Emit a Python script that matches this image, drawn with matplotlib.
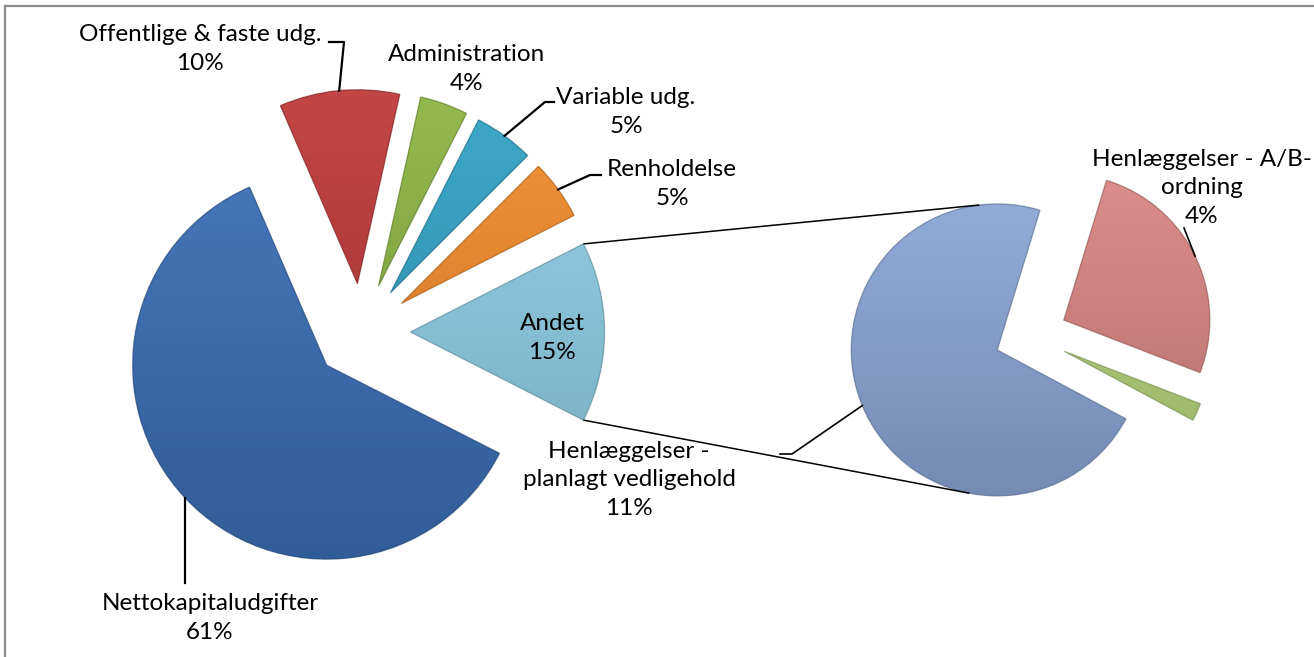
import numpy as np
import matplotlib
matplotlib.use("Agg")
import matplotlib.pyplot as plt
from matplotlib.colors import to_rgb
from matplotlib.patches import Wedge

# ---------------- data ----------------
main_labels = ["Nettokapitaludgifter", "Offentlige & faste udg.", "Administration",
               "Variable udg.", "Renholdelse", "Andet"]
main_values = [61, 10, 4, 5, 5, 15]
main_pct = ["61%", "10%", "4%", "5%", "5%", "15%"]

sec_labels = ["Henlæggelser - A/B-\nordning", "", "Henlæggelser -\nplanlagt vedligehold"]
sec_values = [4, 0.3, 11]
sec_pct = ["4%", "", "11%"]

# ---------------- style ----------------
main_colors = ["#3A6EB4", "#BF3A3A", "#8DB543", "#32A3C5", "#F28C2B", "#8DCCE3"]
sec_colors = ["#D98784", "#B4D27A", "#8AA6D6"]
FONT = ["Lato", "DejaVu Sans"]
FS = 17.5

W, H = 1314, 657
fig = plt.figure(figsize=(W / 100, H / 100), dpi=100)
ax = fig.add_axes([0, 0, 1, 1])


def Y(y):  # image-row to data y
    return H - y


R1, R2 = 194, 146
EXP = 0.25

tot = sum(main_values)
main_start = -180.0 * main_values[-1] / tot   # "Andet" centred at 3 o'clock
main_w, _ = ax.pie(main_values, colors=main_colors, startangle=main_start,
                   counterclock=False, radius=R1, center=(362, Y(332)),
                   explode=[EXP * R1] * len(main_values), frame=True,
                   wedgeprops=dict(linewidth=0))

sec_w, _ = ax.pie(sec_values, colors=sec_colors, startangle=73,
                  counterclock=False, radius=R2, center=(1031, Y(336)),
                  explode=[EXP * R2] * len(sec_values), frame=True,
                  wedgeprops=dict(linewidth=0))

ax.set_xlim(0, W)
ax.set_ylim(0, H)
ax.set_aspect("equal")
ax.axis("off")


def mix(c, t, amt):
    c = np.array(to_rgb(c)); t = np.array(t)
    return c * (1 - amt) + t * amt


def shade(w, col):
    cx, cy = w.center
    r = w.r
    n = 256
    top = mix(col, (1, 1, 1), 0.06)
    bot = mix(col, (0, 0, 0), 0.16)
    t = np.linspace(0, 1, n)[:, None]
    grad = bot[None, :] * (1 - t) + top[None, :] * t
    img = grad[:, None, :]
    im = ax.imshow(img, extent=[cx - r, cx + r, cy - r, cy + r], origin="lower",
                   aspect="auto", zorder=w.get_zorder() + 0.1, interpolation="bilinear")
    im.set_clip_path(w)
    edge = Wedge((cx, cy), r, w.theta1, w.theta2, fill=False,
                 edgecolor=mix(col, (0, 0, 0), 0.35), linewidth=1.0, alpha=0.55,
                 zorder=w.get_zorder() + 0.2)
    ax.add_patch(edge)


for w, c in zip(main_w, main_colors):
    shade(w, c)
for w, c in zip(sec_w, sec_colors):
    shade(w, c)

ax.set_xlim(0, W)
ax.set_ylim(0, H)


def arc_pt(w, frac=0.5):
    a = np.deg2rad(w.theta1 + (w.theta2 - w.theta1) * frac)
    return w.center[0] + w.r * np.cos(a), w.center[1] + w.r * np.sin(a)


def ang_pt(w, deg):
    a = np.deg2rad(deg)
    return w.center[0] + w.r * np.cos(a), w.center[1] + w.r * np.sin(a)


# connector lines between "Andet" and the secondary pie
andet = main_w[-1]
blue2 = sec_w[-1]
p_top = ang_pt(andet, andet.theta2)
p_bot = ang_pt(andet, andet.theta1)
q_top = ang_pt(blue2, 97)
q_bot = ang_pt(blue2, 259)
lk = dict(color="black", lw=1.1, zorder=5, solid_capstyle="butt")
ax.plot([p_top[0], q_top[0]], [p_top[1], q_top[1]], **lk)
ax.plot([p_bot[0], q_bot[0]], [p_bot[1], q_bot[1]], **lk)

# ---------------- labels ----------------
tk = dict(ha="center", va="center", fontsize=FS, family=FONT, color="black",
          linespacing=1.45, zorder=6, multialignment="center")
label_pos_main = [(210, 618), (200, 49), (467, 69), (626, 112), (672, 184), (552, 338)]
for (x, y), name, pct in zip(label_pos_main, main_labels, main_pct):
    ax.text(x, Y(y), f"{name}\n{pct}", **tk)
label_pos_sec = [(1202, 188), None, (629, 480)]
for pos, name, pct in zip(label_pos_sec, sec_labels, sec_pct):
    if pos is None:
        continue
    ax.text(pos[0], Y(pos[1]), f"{name}\n{pct}", **tk)

# leader lines: from slice arc middle to label elbow
lw_lead = 1.6
elbows = {
    0: [(None, 583)],
    1: [(344, 42), (329, 42)],
    3: [(545, 102), (554, 102)],
    4: [(590, 175), (601, 175)],
}
for i, pts in elbows.items():
    sx, sy = arc_pt(main_w[i])
    xs, ys = [sx], [sy]
    for p in pts:
        xs.append(sx if p[0] is None else p[0])
        ys.append(Y(p[1]))
    ax.plot(xs, ys, color="black", lw=lw_lead, zorder=6)

for i, pts in {2: [(792, 454), (780, 454)], 0: [(1184, 228)]}.items():
    sx, sy = arc_pt(sec_w[i])
    xs = [sx] + [p[0] for p in pts]
    ys = [sy] + [Y(p[1]) for p in pts]
    ax.plot(xs, ys, color="black", lw=1.2, zorder=6)

# chart border (top and left visible)
ax.plot([5, W], [Y(6), Y(6)], color="#8C8C8C", lw=1.6, zorder=7)
ax.plot([5, 5], [Y(6), 0], color="#8C8C8C", lw=1.6, zorder=7)

fig.savefig("out.png", dpi=100, facecolor="white")
